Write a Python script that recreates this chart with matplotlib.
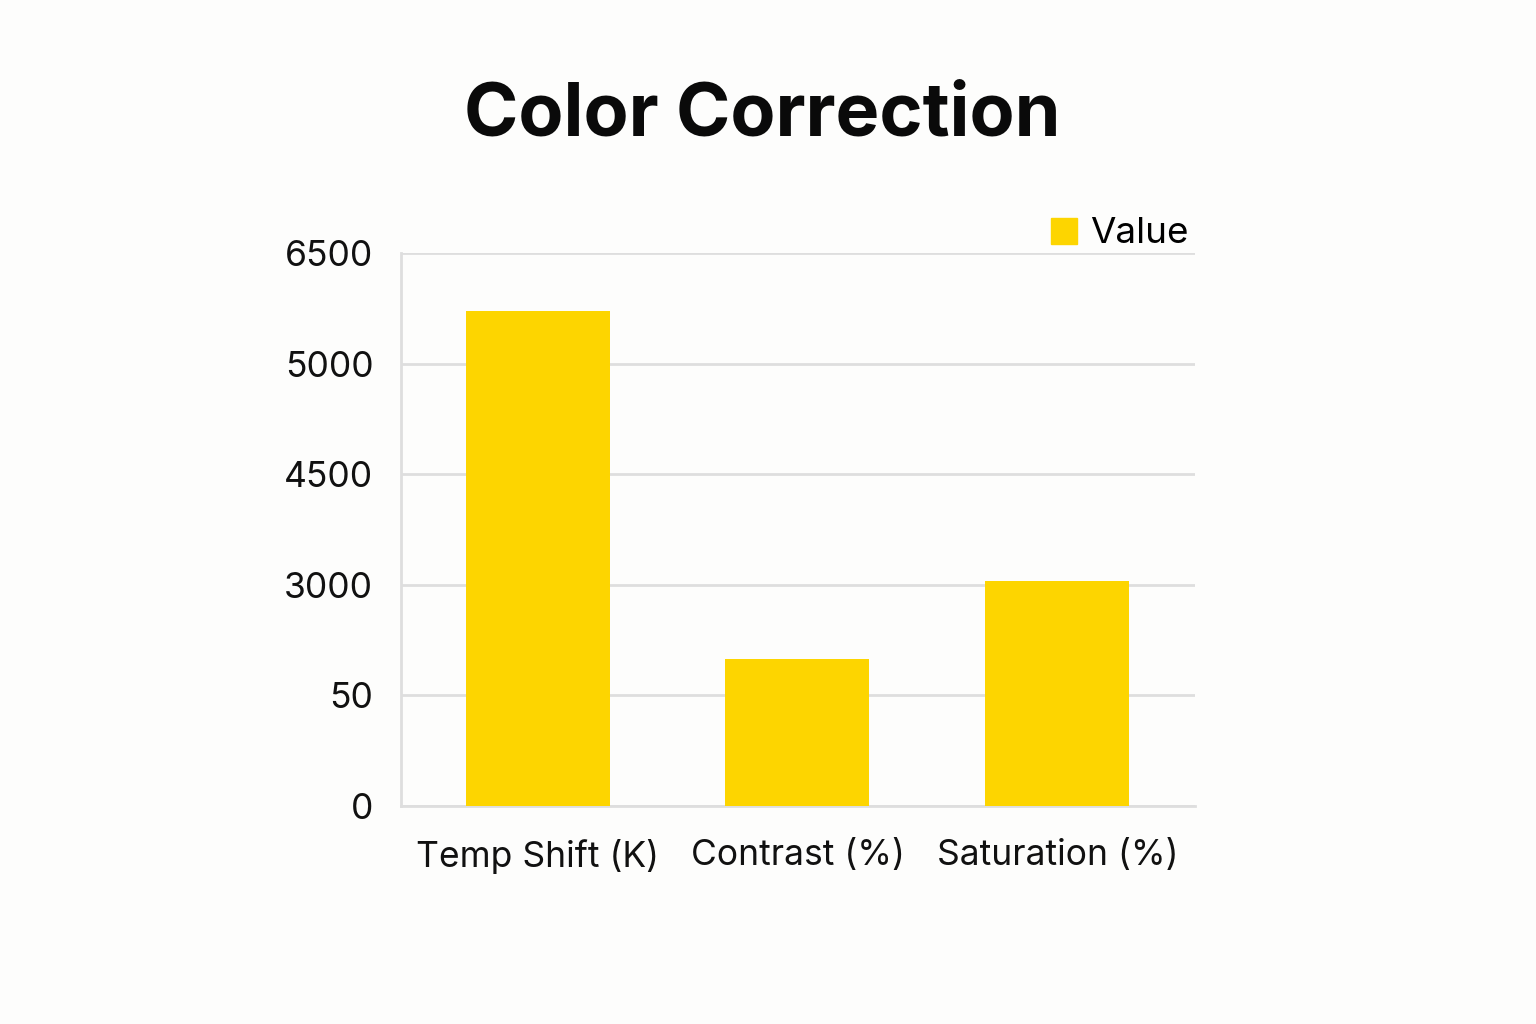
import matplotlib
matplotlib.use("Agg")
import matplotlib.pyplot as plt
from matplotlib.lines import Line2D

categories = ["Temp Shift (K)", "Contrast (%)", "Saturation (%)"]
# bar heights expressed in axis-position units (tick index scale)
values = [4.48, 1.33, 2.03]
tick_labels = ["0", "50", "3000", "4500", "5000", "6500"]
series_name = "Value"
title = "Color Correction"

plt.rcParams['font.family'] = ['Inter', 'DejaVu Sans']

bg = "#fdfdfc"
bar_color = "#fdd500"
grid_color = "#dedede"

fig = plt.figure(figsize=(15.36, 10.24), dpi=100, facecolor=bg)
ax = fig.add_axes([0.2611, 0.2129, 0.517, 0.54])
ax.set_facecolor(bg)

x = list(range(len(categories)))
ax.bar(x, values, width=0.554, color=bar_color, zorder=3)

ax.set_xlim(-0.525, 2.53)
ax.set_ylim(0, len(tick_labels) - 1)
ax.set_yticks(range(len(tick_labels)))
ax.set_yticklabels(tick_labels)
ax.set_xticks(x)
ax.set_xticklabels(categories)

ax.grid(axis='y', color=grid_color, linewidth=2, zorder=0)
ax.set_axisbelow(True)
for s in ['top', 'right']:
    ax.spines[s].set_visible(False)
for s in ['left', 'bottom']:
    ax.spines[s].set_color(grid_color)
    ax.spines[s].set_linewidth(2)
ax.tick_params(axis='both', length=0, labelsize=25.5, colors='#111111')
ax.tick_params(axis='y', pad=20)
ax.tick_params(axis='x', pad=24)

handle = Line2D([], [], marker='s', linestyle='none', markersize=19,
                markerfacecolor=bar_color, markeredgecolor=bar_color)
ax.legend([handle], [series_name], loc='lower right', bbox_to_anchor=(1.01, 0.978),
          frameon=False, fontsize=26.5, handletextpad=0.3, borderaxespad=0, handlelength=0.8)

fig.text(0.496, 0.887, title, ha='center', va='center', fontsize=53,
         fontweight='bold', color='#0a0a0a')

fig.savefig("out.png", dpi=100, facecolor=bg)
